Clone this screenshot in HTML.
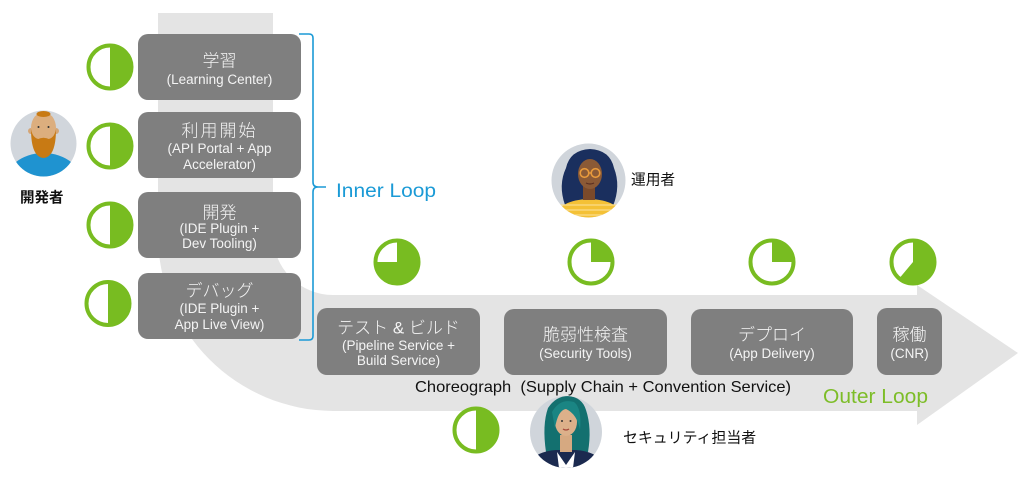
<!DOCTYPE html>
<html><head><meta charset="utf-8">
<style>
html,body{margin:0;padding:0;background:#fff;width:1024px;height:477px;overflow:hidden;}
svg{display:block;}
.t{font-family:"Liberation Sans","Noto Sans CJK JP",sans-serif;font-weight:300;font-size:17px;fill:#f4f4f4;text-anchor:middle;}
.s{font-family:"Liberation Sans",sans-serif;font-size:13.5px;fill:#f4f4f4;text-anchor:middle;}
.j{font-family:"Liberation Sans","Noto Sans CJK JP",sans-serif;fill:#111;}
</style></head>
<body>
<svg width="1024" height="477" viewBox="0 0 1024 477" xmlns="http://www.w3.org/2000/svg">
<defs>
<clipPath id="c1"><circle cx="43.5" cy="143.5" r="33"/></clipPath>
<clipPath id="c2"><circle cx="588.5" cy="180.5" r="37"/></clipPath>
<clipPath id="c3"><circle cx="566" cy="432" r="36"/></clipPath>
</defs>

<!-- gray flow band -->
<path d="M158,13 H273 V235 A60,60 0 0 0 333,295 H917 V285 L1018,353 L917,425 V411 H333 A176,176 0 0 1 158,235 Z" fill="#e4e4e4"/>

<!-- boxes -->
<g fill="#7f7f7f">
<rect x="138" y="34" width="163" height="66" rx="10"/>
<rect x="138" y="112" width="163" height="66" rx="10"/>
<rect x="138" y="192" width="163" height="66" rx="10"/>
<rect x="138" y="273" width="163" height="66" rx="10"/>
<rect x="317" y="308" width="163" height="67" rx="10"/>
<rect x="504" y="309" width="163" height="66" rx="10"/>
<rect x="691" y="309" width="162" height="66" rx="10"/>
<rect x="877" y="308" width="65" height="67" rx="10"/>
</g>

<text class="t" x="219.5" y="66.5">学習</text>
<text class="s" x="219.5" y="83.8">(Learning Center)</text>

<text class="t" x="219.5" y="136.5" letter-spacing="2">利用開始</text>
<text class="s" x="219.5" y="152.8">(API Portal + App</text>
<text class="s" x="219.5" y="168.8">Accelerator)</text>

<text class="t" x="219.5" y="218.5">開発</text>
<text class="s" x="219.5" y="232.8">(IDE Plugin +</text>
<text class="s" x="219.5" y="247.8">Dev Tooling)</text>

<text class="t" x="219.5" y="296.5">デバッグ</text>
<text class="s" x="219.5" y="312.8">(IDE Plugin +</text>
<text class="s" x="219.5" y="328.8">App Live View)</text>

<text class="t" x="398.5" y="333.5">テスト &amp; ビルド</text>
<text class="s" x="398.5" y="349.8">(Pipeline Service +</text>
<text class="s" x="398.5" y="364.8">Build Service)</text>

<text class="t" x="585.5" y="340.5">脆弱性検査</text>
<text class="s" x="585.5" y="357.8">(Security Tools)</text>

<text class="t" x="772" y="340.5">デプロイ</text>
<text class="s" x="772" y="357.8">(App Delivery)</text>

<text class="t" x="909.5" y="340.5">稼働</text>
<text class="s" x="909.5" y="357.8">(CNR)</text>

<!-- bracket -->
<path d="M299,34 H309 Q313,34 313,38 V182 Q313,187 318,187 H326 M318,187 Q313,187 313,192 V336 Q313,340 309,340 H299" fill="none" stroke="#1b9ad6" stroke-width="1.6"/>
<text x="336" y="197" font-family="Liberation Sans, sans-serif" font-size="19.5" fill="#1a9ad6" textLength="100" lengthAdjust="spacingAndGlyphs">Inner Loop</text>

<text x="415" y="391.8" font-family="Liberation Sans, sans-serif" font-size="16" fill="#111" textLength="376" lengthAdjust="spacingAndGlyphs">Choreograph&#160;&#160;(Supply Chain + Convention Service)</text>
<text x="823" y="403" font-family="Liberation Sans, sans-serif" font-size="20" fill="#7dbd28" textLength="105" lengthAdjust="spacingAndGlyphs">Outer Loop</text>

<!-- pies -->
<g stroke="#78bc21" stroke-width="4" fill="#fff">
<circle cx="110" cy="67" r="21.5"/>
<circle cx="110" cy="146" r="21.5"/>
<circle cx="110" cy="225" r="21.5"/>
<circle cx="108" cy="303.5" r="21.5"/>
<circle cx="476" cy="430" r="21.5"/>
<circle cx="397" cy="262" r="21.5"/>
<circle cx="591" cy="262" r="21.5"/>
<circle cx="772" cy="262" r="21.5"/>
<circle cx="913" cy="262" r="21.5"/>
</g>
<g fill="#78bc21">
<path d="M110,45.5 A21.5,21.5 0 0 1 110,88.5 Z"/>
<path d="M110,124.5 A21.5,21.5 0 0 1 110,167.5 Z"/>
<path d="M110,203.5 A21.5,21.5 0 0 1 110,246.5 Z"/>
<path d="M108,282 A21.5,21.5 0 0 1 108,325 Z"/>
<path d="M476,408.5 A21.5,21.5 0 0 1 476,451.5 Z"/>
<path d="M397,262 L397,240.5 A21.5,21.5 0 1 1 375.5,262 Z"/>
<path d="M591,262 L591,240.5 A21.5,21.5 0 0 1 612.5,262 Z"/>
<path d="M772,262 L772,240.5 A21.5,21.5 0 0 1 793.5,262 Z"/>
<path d="M913,262 L913,240.5 A21.5,21.5 0 1 1 899.2,278.5 Z"/>
</g>

<!-- developer avatar -->
<g clip-path="url(#c1)">
<rect x="10" y="110" width="67" height="67" fill="#d1d6dc"/>
<ellipse cx="43.5" cy="186" rx="40" ry="33" fill="#1f93d0"/>
<rect x="37" y="138" width="14" height="16" fill="#c79a6c"/>
<circle cx="31" cy="131" r="3" fill="#d4a576"/>
<circle cx="56" cy="131" r="3" fill="#d4a576"/>
<ellipse cx="43.5" cy="128" rx="12.5" ry="16" fill="#dcae7e"/>
<path d="M31,129 Q31,157 43.5,158 Q56,157 56,129 Q54,141 43.5,139 Q33,141 31,129 Z" fill="#c87a14"/>
<path d="M37,139.5 Q43.5,136 50,139.5 Q43.5,141 37,139.5 Z" fill="#c87a14"/>
<ellipse cx="43.5" cy="114" rx="7" ry="3" fill="#c87a14"/>
<circle cx="38.5" cy="127" r="1" fill="#333"/>
<circle cx="48.5" cy="127" r="1" fill="#333"/>
</g>
<text class="j" x="20" y="202.5" font-size="14.5" font-weight="bold">開発者</text>

<!-- operator avatar -->
<g clip-path="url(#c2)">
<rect x="551" y="143" width="75" height="75" fill="#d0d5db"/>
<path d="M565,205 Q558,185 566,168 Q570,150 590,149 Q610,150 614,168 Q621,186 613,206 Z" fill="#1a2f5e"/>
<path d="M556,218 Q558,200 589,199 Q620,200 622,218 Z" fill="#f4c136"/>
<g stroke="#f9dc8a" stroke-width="1.3"><line x1="560" y1="205" x2="618" y2="205"/><line x1="558" y1="210" x2="620" y2="210"/><line x1="557" y1="215" x2="621" y2="215"/></g>
<rect x="583" y="186" width="12" height="14" fill="#7a4a2a"/>
<ellipse cx="590" cy="174" rx="12" ry="15" fill="#8b5a36"/>
<path d="M576,165 Q590,152 604,165 Q600,158 590,158 Q580,158 576,165 Z" fill="#1a2f5e"/>
<g fill="none" stroke="#e89a3c" stroke-width="1.6"><circle cx="584.5" cy="173" r="4.3"/><circle cx="595.5" cy="173" r="4.3"/><line x1="588.8" y1="173" x2="591.2" y2="173"/></g>
<path d="M586,183 Q590,185 594,183" stroke="#5a2e20" stroke-width="1.2" fill="none"/>
</g>
<text class="j" x="631" y="184.5" font-size="14.7">運用者</text>

<!-- security avatar -->
<g clip-path="url(#c3)">
<rect x="529" y="396" width="75" height="72" fill="#d0d5db"/>
<path d="M546,452 Q542,425 548,408 Q556,396 568,396 Q582,397 586,410 Q592,428 588,452 Z" fill="#13706f"/>
<path d="M528,468 Q531,452 556,450 L576,450 Q601,452 604,468 Z" fill="#1b2a4f"/>
<path d="M557,452 L566,465 L575,452 L573,468 L559,468 Z" fill="#fff"/>
<rect x="560" y="435" width="12" height="17" fill="#d6a981"/>
<ellipse cx="566" cy="422" rx="11" ry="14" fill="#dcb08a"/>
<path d="M552,412 Q560,398 574,402 Q582,408 580,430 Q577,414 566,409 Q558,410 555,428 Z" fill="#1a8583"/>
<circle cx="562" cy="421" r="1" fill="#333"/>
<circle cx="570.5" cy="421" r="1" fill="#333"/>
<path d="M563,429 Q566,431 569,429" stroke="#a5473a" stroke-width="1.3" fill="none"/>
</g>
<text class="j" x="623" y="442.5" font-size="14.9">セキュリティ担当者</text>
</svg>
</body></html>
